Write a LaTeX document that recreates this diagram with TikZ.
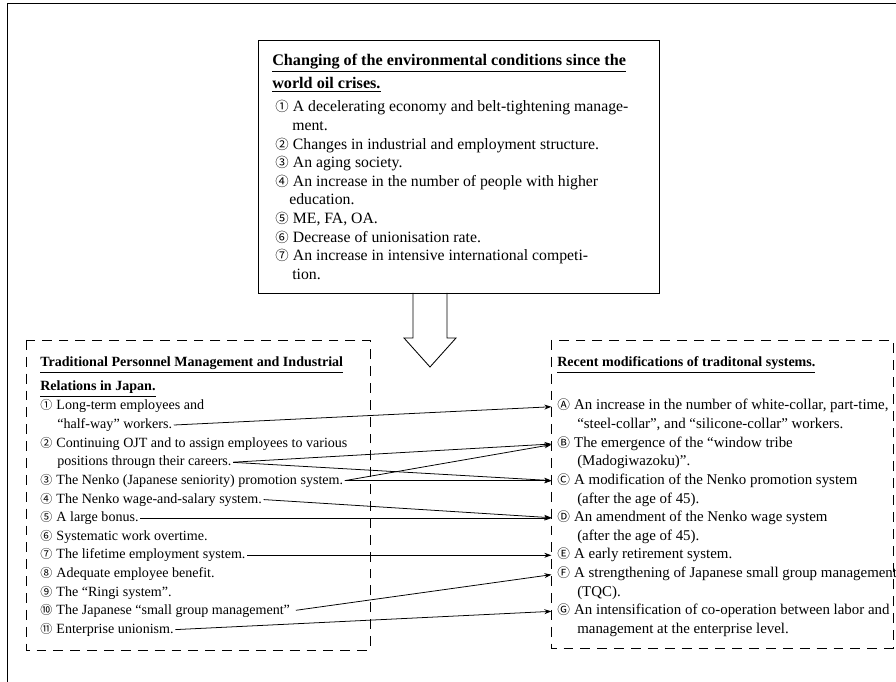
\documentclass[tikz,border=0pt]{standalone}
\usepackage{fontspec}
\setmainfont{Liberation Serif}
\newfontfamily\circfont{Noto Sans CJK JP}[Scale=0.85]
\usepackage{tikz}
\usetikzlibrary{arrows.meta,positioning}
\newcommand{\cn}[1]{{\circfont#1}\hspace{3pt}}

\begin{document}
\begin{tikzpicture}[x=0.025cm, y=-0.025cm,
    txt/.style={anchor=base west, inner sep=0pt, text height=7pt, text depth=2pt, font=\fontsize{10}{12}\selectfont},
    rtxt/.style={txt, font=\fontsize{10.6}{12}\selectfont},
    ttl/.style={txt, font=\fontsize{10}{12}\selectfont\bfseries},
    dashbox/.style={draw, line width=0.6pt, dash pattern=on 7pt off 5pt},
    link/.style={-{Stealth[length=5pt,width=3.5pt]}, line width=0.55pt, shorten >=4pt, shorten <=1pt}]
    \useasboundingbox (0,0) rectangle (896,682);
    % page frame
    \draw[line width=0.6pt] (896,3) -- (7,3) -- (7,682);

    % environmental conditions
    \draw[line width=0.6pt] (258,40) rectangle (659,293);
    \node[ttl, font=\fontsize{11.5}{13}\selectfont\bfseries] (top1) at (272,66) {\underline{Changing of the environmental conditions since the}};
    \node[ttl, font=\fontsize{11.5}{13}\selectfont\bfseries] (top2) at (272,89) {\underline{world oil crises.}};
    \foreach \x/\t [count=\i] in {
        275/{\cn{①}A decelerating economy and belt-tightening manage-},
        292/{ment.},
        275/{\cn{②}Changes in industrial and employment structure.},
        275/{\cn{③}An aging society.},
        275/{\cn{④}An increase in the number of people with higher},
        289/{education.},
        275/{\cn{⑤}ME, FA, OA.},
        275/{\cn{⑥}Decrease of unionisation rate.},
        275/{\cn{⑦}An increase in intensive international competi-},
        292/{tion.}}
      \node[txt, font=\fontsize{11.2}{13}\selectfont] (top-\i) at (\x, 112+18.6*\i-18.6) {\t};

    % hollow arrow
    \draw[line width=0.6pt] (413,293) -- (413,338) -- (404,338) -- (430,367) -- (456,338) -- (447,338) -- (447,293);

    % traditional side
    \draw[dashbox] (26,340) rectangle (370,650);
    \node[ttl] (lt1) at (40,367) {\underline{Traditional Personnel Management and Industrial}};
    \node[ttl] (lt2) at (40,391) {\underline{Relations in Japan.}};
    \node[txt] (l1) at (40,410) {\cn{①}Long-term employees and};
    \node[txt] (l1b) at (57,428.6) {“half-way” workers.};
    \node[txt] (l2) at (40,447.2) {\cn{②}Continuing OJT and to assign employees to various};
    \node[txt] (l2b) at (57,465.8) {positions througn their careers.};
    \node[txt] (l3) at (40,484.4) {\cn{③}The Nenko (Japanese seniority) promotion system.};
    \node[txt] (l4) at (40,503) {\cn{④}The Nenko wage-and-salary system.};
    \node[txt] (l5) at (40,521.6) {\cn{⑤}A large bonus.};
    \node[txt] (l6) at (40,540.2) {\cn{⑥}Systematic work overtime.};
    \node[txt] (l7) at (40,558.8) {\cn{⑦}The lifetime employment system.};
    \node[txt] (l8) at (40,577.4) {\cn{⑧}Adequate employee benefit.};
    \node[txt] (l9) at (40,596) {\cn{⑨}The “Ringi system”.};
    \node[txt] (l10) at (40,614.6) {\cn{⑩}The Japanese “small group management”};
    \node[txt] (l11) at (40,633.2) {\cn{⑪}Enterprise unionism.};

    % recent modifications
    \draw[dashbox] (551,340) rectangle (893,648);
    \node[ttl] (rt1) at (557,367) {\underline{Recent modifications of traditonal systems.}};
    \node[rtxt] (ra) at (557,410) {\cn{Ⓐ}An increase in the number of white-collar, part-time,};
    \node[rtxt] (ra2) at (577,428.6) {“steel-collar”, and “silicone-collar” workers.};
    \node[rtxt] (rb) at (557,447.2) {\cn{Ⓑ}The emergence of the “window tribe};
    \node[rtxt] (rb2) at (577,465.8) {(Madogiwazoku)”.};
    \node[rtxt] (rc) at (557,484.4) {\cn{Ⓒ}A modification of the Nenko promotion system};
    \node[rtxt] (rc2) at (577,503) {(after the age of 45).};
    \node[rtxt] (rd) at (557,521.6) {\cn{Ⓓ}An amendment of the Nenko wage system};
    \node[rtxt] (rd2) at (577,540.2) {(after the age of 45).};
    \node[rtxt] (re) at (557,558.8) {\cn{Ⓔ}A early retirement system.};
    \node[rtxt] (rf) at (557,577.4) {\cn{Ⓕ}A strengthening of Japanese small group management};
    \node[rtxt] (rf2) at (577,596) {(TQC).};
    \node[rtxt] (rg) at (557,614.6) {\cn{Ⓖ}An intensification of co-operation between labor and};
    \node[rtxt] (rg2) at (577,633.2) {management at the enterprise level.};

    \draw[link] (l1b.east) -- (ra.west);
    \draw[link] (l2b.east) -- (rb.west);
    \draw[link] (l2b.east) -- (rc.west);
    \draw[link] (l3.east) -- (rb.west);
    \draw[link] (l3.east) -- (rc.west);
    \draw[link] (l4.east) -- (rd.west);
    \draw[link] (l5.east) -- (rd.west);
    \draw[link] (l7.east) -- (re.west);
    \draw[link, shorten <=4pt] (l10.east) -- (rf.west);
    \draw[link] (l11.east) -- (rg.west);
  \end{tikzpicture}
\end{document}
